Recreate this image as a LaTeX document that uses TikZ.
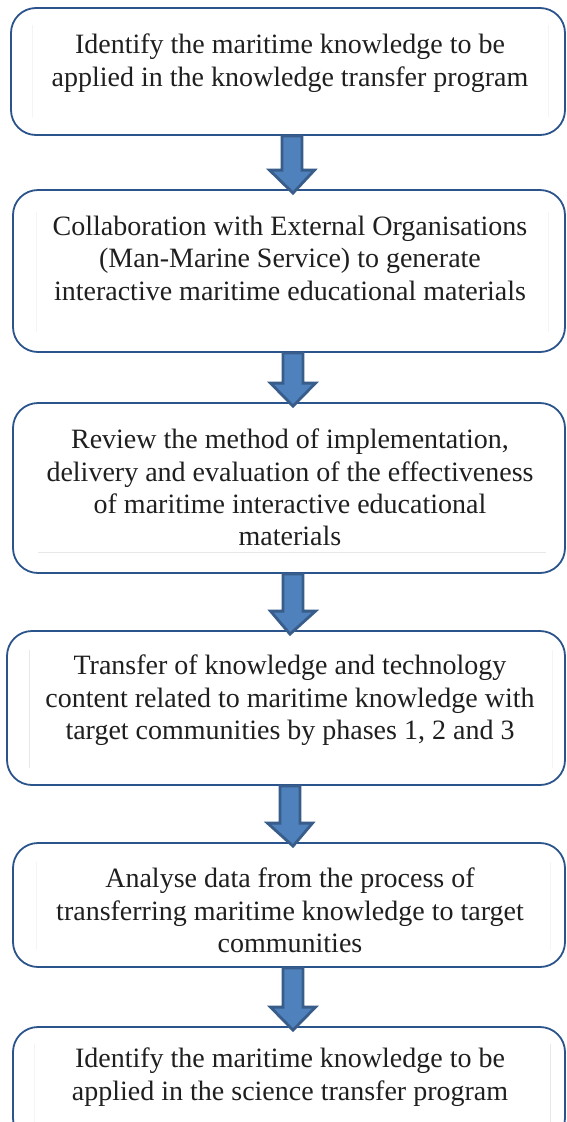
\documentclass[tikz,border=0pt]{standalone}
\usepackage{fontspec}
\setmainfont{Liberation Serif}
\usetikzlibrary{calc}

\definecolor{boxline}{RGB}{44,84,140}
\definecolor{arrowfill}{RGB}{79,129,189}
\definecolor{arrowline}{RGB}{56,93,138}
\definecolor{frameghost}{RGB}{232,232,232}
\definecolor{frameghostlight}{RGB}{244,244,244}

\tikzset{
  stepbox/.style={draw=boxline, line width=1.8pt, rounded corners=25pt,
    rectangle, inner sep=0pt, fill=white},
  steptext/.style={anchor=north, inner sep=0pt, align=center,
    font=\fontsize{28}{32.2}\selectfont, text=black!88},
  blockarrow/.style={fill=arrowfill, draw=arrowline, line width=2.8pt,
    line join=miter},
  ghost/.style={draw=frameghost, line width=0.8pt},
  faintghost/.style={draw=frameghostlight, line width=0.8pt}
}

% down arrow from the bottom of one box to the top of the next
\newcommand{\downarrowbetween}[2]{%
  \draw[blockarrow] let \p1=($(#1.south)+(4,0)$), \p2=($(#2.north)+(4,4)$) in
    (\x1-10pt,\y1) -- (\x1+10pt,\y1) -- (\x1+10pt,\y2+23pt)
    -- (\x1+22.5pt,\y2+23pt) -- (\x2,\y2) -- (\x1-22.5pt,\y2+23pt)
    -- (\x1-10pt,\y2+23pt) -- cycle;}

\begin{document}
\begin{tikzpicture}[x=1pt,y=-1pt]
  \clip (0,0) rectangle (566,1122);
  \fill[white] (0,0) rectangle (566,1122);

  % boxes: centre x, centre y, width, height
  \node[stepbox, minimum width=554pt, minimum height=127pt] (b1) at (288,71.5) {};
  \node[stepbox, minimum width=552pt, minimum height=162pt] (b2) at (289,271) {};
  \node[stepbox, minimum width=552pt, minimum height=170pt] (b3) at (289,488) {};
  \node[stepbox, minimum width=558pt, minimum height=154pt] (b4) at (286,708) {};
  \node[stepbox, minimum width=552pt, minimum height=124pt] (b5) at (289,905) {};
  \node[stepbox, minimum width=552pt, minimum height=116pt] (b6) at (289,1085) {};

  % faint frame edges of the text areas
  \draw[faintghost] (32,25) -- (32,117);
  \draw[faintghost] (548,25) -- (548,117);
  \draw[faintghost] (36,212) -- (36,332);
  \draw[faintghost] (548,212) -- (548,332);
  \draw[ghost] (38,552) -- (546,552);
  \draw[ghost] (29,650) -- (29,768);
  \draw[faintghost] (552,650) -- (552,768);
  \draw[faintghost] (36,862) -- (36,950);
  \draw[faintghost] (550,862) -- (550,950);
  \draw[faintghost] (34,1044) -- (34,1122);
  \draw[ghost] (550,1044) -- (550,1122);

  % texts
  \node[steptext] (t1) at (290,34) {Identify the maritime knowledge to be\\
    applied in the knowledge transfer program};
  \node[steptext] (t2) at (290,216) {Collaboration with External Organisations\\
    (Man-Marine Service) to generate\\
    interactive maritime educational materials};
  \node[steptext] (t3) at (290,429) {Review the method of implementation,\\
    delivery and evaluation of the effectiveness\\
    of maritime interactive educational\\
    materials};
  \node[steptext] (t4) at (290,655) {Transfer of knowledge and technology\\
    content related to maritime knowledge with\\
    target communities by phases 1, 2 and 3};
  \node[steptext] (t5) at (290,868) {Analyse data from the process of\\
    transferring maritime knowledge to target\\
    communities};
  \node[steptext] (t6) at (290,1048) {Identify the maritime knowledge to be\\
    applied in the science transfer program};

  % arrows
  \downarrowbetween{b1}{b2}
  \downarrowbetween{b2}{b3}
  \downarrowbetween{b3}{b4}
  \downarrowbetween{b4}{b5}
  \downarrowbetween{b5}{b6}
\end{tikzpicture}
\end{document}
